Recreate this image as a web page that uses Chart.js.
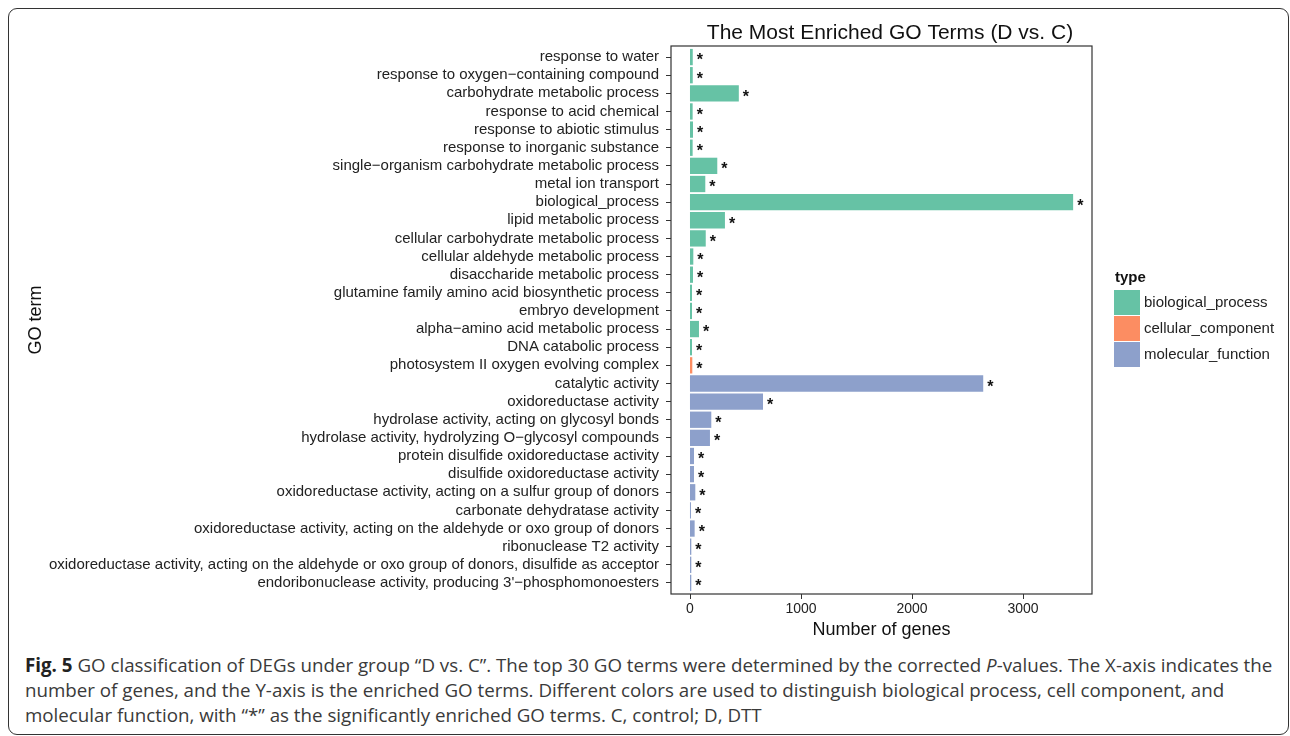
<!DOCTYPE html>
<html>
<head>
<meta charset="utf-8">
<script src="https://cdn.jsdelivr.net/npm/chart.js@4.4.0/dist/chart.umd.min.js"></script>
<style>
  html, body { margin: 0; padding: 0; background: #fff; }
  body { width: 1290px; height: 736px; position: relative; overflow: hidden; }
  #frame {
    position: absolute; left: 8px; top: 8px; width: 1281px; height: 727px;
    border: 1.5px solid #333; border-radius: 9px; box-sizing: border-box;
  }
  #chartBox { position: absolute; left: 0; top: 0; width: 1290px; height: 650px; }
  #caption {
    position: absolute; left: 25px; top: 652px;
    font-family: "Open Sans", "Noto Sans", sans-serif; font-size: 17px;
    line-height: 25px; color: #3a3a3a;
  }
  #caption div { white-space: nowrap; }
  #caption b { color: #222; }
</style>
</head>
<body>
<div id="frame"></div>
<div id="chartBox"><canvas id="goChart" width="1290" height="650"></canvas></div>
<div id="caption">
  <div id="capLine1"><b>Fig. 5</b> GO classification of DEGs under group “D vs. C”. The top 30 GO terms were determined by the corrected <i>P</i>-values. The X-axis indicates the</div>
  <div>number of genes, and the Y-axis is the enriched GO terms. Different colors are used to distinguish biological process, cell component, and</div>
  <div>molecular function, with “*” as the significantly enriched GO terms. C, control; D, DTT</div>
</div>
<script>
// GO terms, top to bottom
const terms = [
  'response to water',
  'response to oxygen−containing compound',
  'carbohydrate metabolic process',
  'response to acid chemical',
  'response to abiotic stimulus',
  'response to inorganic substance',
  'single−organism carbohydrate metabolic process',
  'metal ion transport',
  'biological_process',
  'lipid metabolic process',
  'cellular carbohydrate metabolic process',
  'cellular aldehyde metabolic process',
  'disaccharide metabolic process',
  'glutamine family amino acid biosynthetic process',
  'embryo development',
  'alpha−amino acid metabolic process',
  'DNA catabolic process',
  'photosystem II oxygen evolving complex',
  'catalytic activity',
  'oxidoreductase activity',
  'hydrolase activity, acting on glycosyl bonds',
  'hydrolase activity, hydrolyzing O−glycosyl compounds',
  'protein disulfide oxidoreductase activity',
  'disulfide oxidoreductase activity',
  'oxidoreductase activity, acting on a sulfur group of donors',
  'carbonate dehydratase activity',
  'oxidoreductase activity, acting on the aldehyde or oxo group of donors',
  'ribonuclease T2 activity',
  'oxidoreductase activity, acting on the aldehyde or oxo group of donors, disulfide as acceptor',
  "endoribonuclease activity, producing 3'−phosphomonoesters"
];

const geneCounts = [
  25, 25, 440, 24, 27, 24, 246, 138, 3452, 315,
  142, 30, 27, 18, 18, 81, 18, 21, 2642, 658,
  192, 180, 36, 36, 48, 9, 42, 12, 12, 12
];

// 0 = biological_process, 1 = cellular_component, 2 = molecular_function
const termTypes = [
  0, 0, 0, 0, 0, 0, 0, 0, 0, 0,
  0, 0, 0, 0, 0, 0, 0, 1, 2, 2,
  2, 2, 2, 2, 2, 2, 2, 2, 2, 2
];

const significant = terms.map(() => true);

const typeNames = ['biological_process', 'cellular_component', 'molecular_function'];
const typeColors = ['#66C2A5', '#FC8D62', '#8DA0CB'];
const xTicks = [0, 1000, 2000, 3000];

const FONT = '"Liberation Sans", Arial, sans-serif';
const INK = '#222';

// fit the caption to the frame width
(function () {
  const line = document.getElementById('capLine1');
  const w = line.scrollWidth;
  const size = 17 * 1248 / w;
  document.getElementById('caption').style.fontSize = size.toFixed(2) + 'px';
})();

// panel box, x tick marks, title, stars and legend
const decorations = {
  id: 'decorations',
  afterDatasetsDraw(chart) {
    const ctx = chart.ctx;
    const meta = chart.getDatasetMeta(0);
    ctx.save();
    ctx.fillStyle = '#111';
    ctx.font = 'bold 16px ' + FONT;
    ctx.textAlign = 'left';
    ctx.textBaseline = 'middle';
    meta.data.forEach((bar, i) => {
      if (significant[i]) ctx.fillText('*', bar.x + 4, bar.y + 4);
    });
    ctx.restore();
  },
  afterDraw(chart) {
    const ctx = chart.ctx;
    const a = chart.chartArea;
    const top = a.top - 2, bottom = a.bottom + 2;
    ctx.save();
    ctx.strokeStyle = '#333';
    ctx.lineWidth = 1.2;
    ctx.strokeRect(a.left, top, a.right - a.left, bottom - top);

    // x tick marks below the panel
    ctx.beginPath();
    xTicks.forEach(v => {
      const x = Math.round(chart.scales.x.getPixelForValue(v)) + 0.5;
      ctx.moveTo(x, bottom);
      ctx.lineTo(x, bottom + 5);
    });
    ctx.lineWidth = 1;
    ctx.stroke();

    ctx.fillStyle = '#111';
    ctx.font = '21px ' + FONT;
    ctx.textAlign = 'center';
    ctx.textBaseline = 'middle';
    ctx.fillText('The Most Enriched GO Terms (D vs. C)', 890, 33);

    // legend
    ctx.textAlign = 'left';
    ctx.font = 'bold 15px ' + FONT;
    ctx.fillText('type', 1115, 278);
    ctx.font = '15px ' + FONT;
    typeNames.forEach((name, i) => {
      const y = 290 + i * 26;
      ctx.fillStyle = typeColors[i];
      ctx.fillRect(1114, y, 26, 25);
      ctx.fillStyle = INK;
      ctx.fillText(name, 1144, y + 13);
    });
    ctx.restore();
  }
};

new Chart(document.getElementById('goChart'), {
  type: 'bar',
  data: {
    labels: terms,
    datasets: [{
      label: 'Number of genes',
      data: geneCounts,
      backgroundColor: termTypes.map(t => typeColors[t]),
      borderWidth: 0,
      barPercentage: 0.9,
      categoryPercentage: 1.0
    }]
  },
  options: {
    indexAxis: 'y',
    responsive: false,
    animation: false,
    layout: { padding: { top: 48, right: 198, bottom: 0, left: 0 } },
    plugins: {
      legend: { display: false },
      tooltip: { enabled: false }
    },
    scales: {
      x: {
        type: 'linear',
        min: -171,
        max: 3622,
        afterBuildTicks: scale => { scale.ticks = xTicks.map(v => ({ value: v })); },
        afterFit: scale => { scale.height = 58; },
        border: { display: false },
        grid: { display: false, drawTicks: true, tickLength: 7 },
        ticks: { color: INK, font: { family: FONT, size: 14 }, padding: 2, callback: v => String(v) },
        title: {
          display: true,
          text: 'Number of genes',
          color: '#111',
          font: { family: FONT, size: 18 },
          padding: { top: 0, bottom: 9 }
        }
      },
      y: {
        afterFit: scale => { scale.width = 671; },
        border: { display: false },
        grid: { offset: false, drawOnChartArea: false, drawTicks: true, tickLength: 5, color: '#333' },
        ticks: { color: INK, font: { family: FONT, size: 15 }, padding: 7, autoSkip: false },
        title: {
          display: true,
          text: 'GO term',
          color: '#111',
          font: { family: FONT, size: 18 },
          padding: { top: 25, bottom: 0 }
        }
      }
    }
  },
  plugins: [decorations]
});
</script>
</body>
</html>
